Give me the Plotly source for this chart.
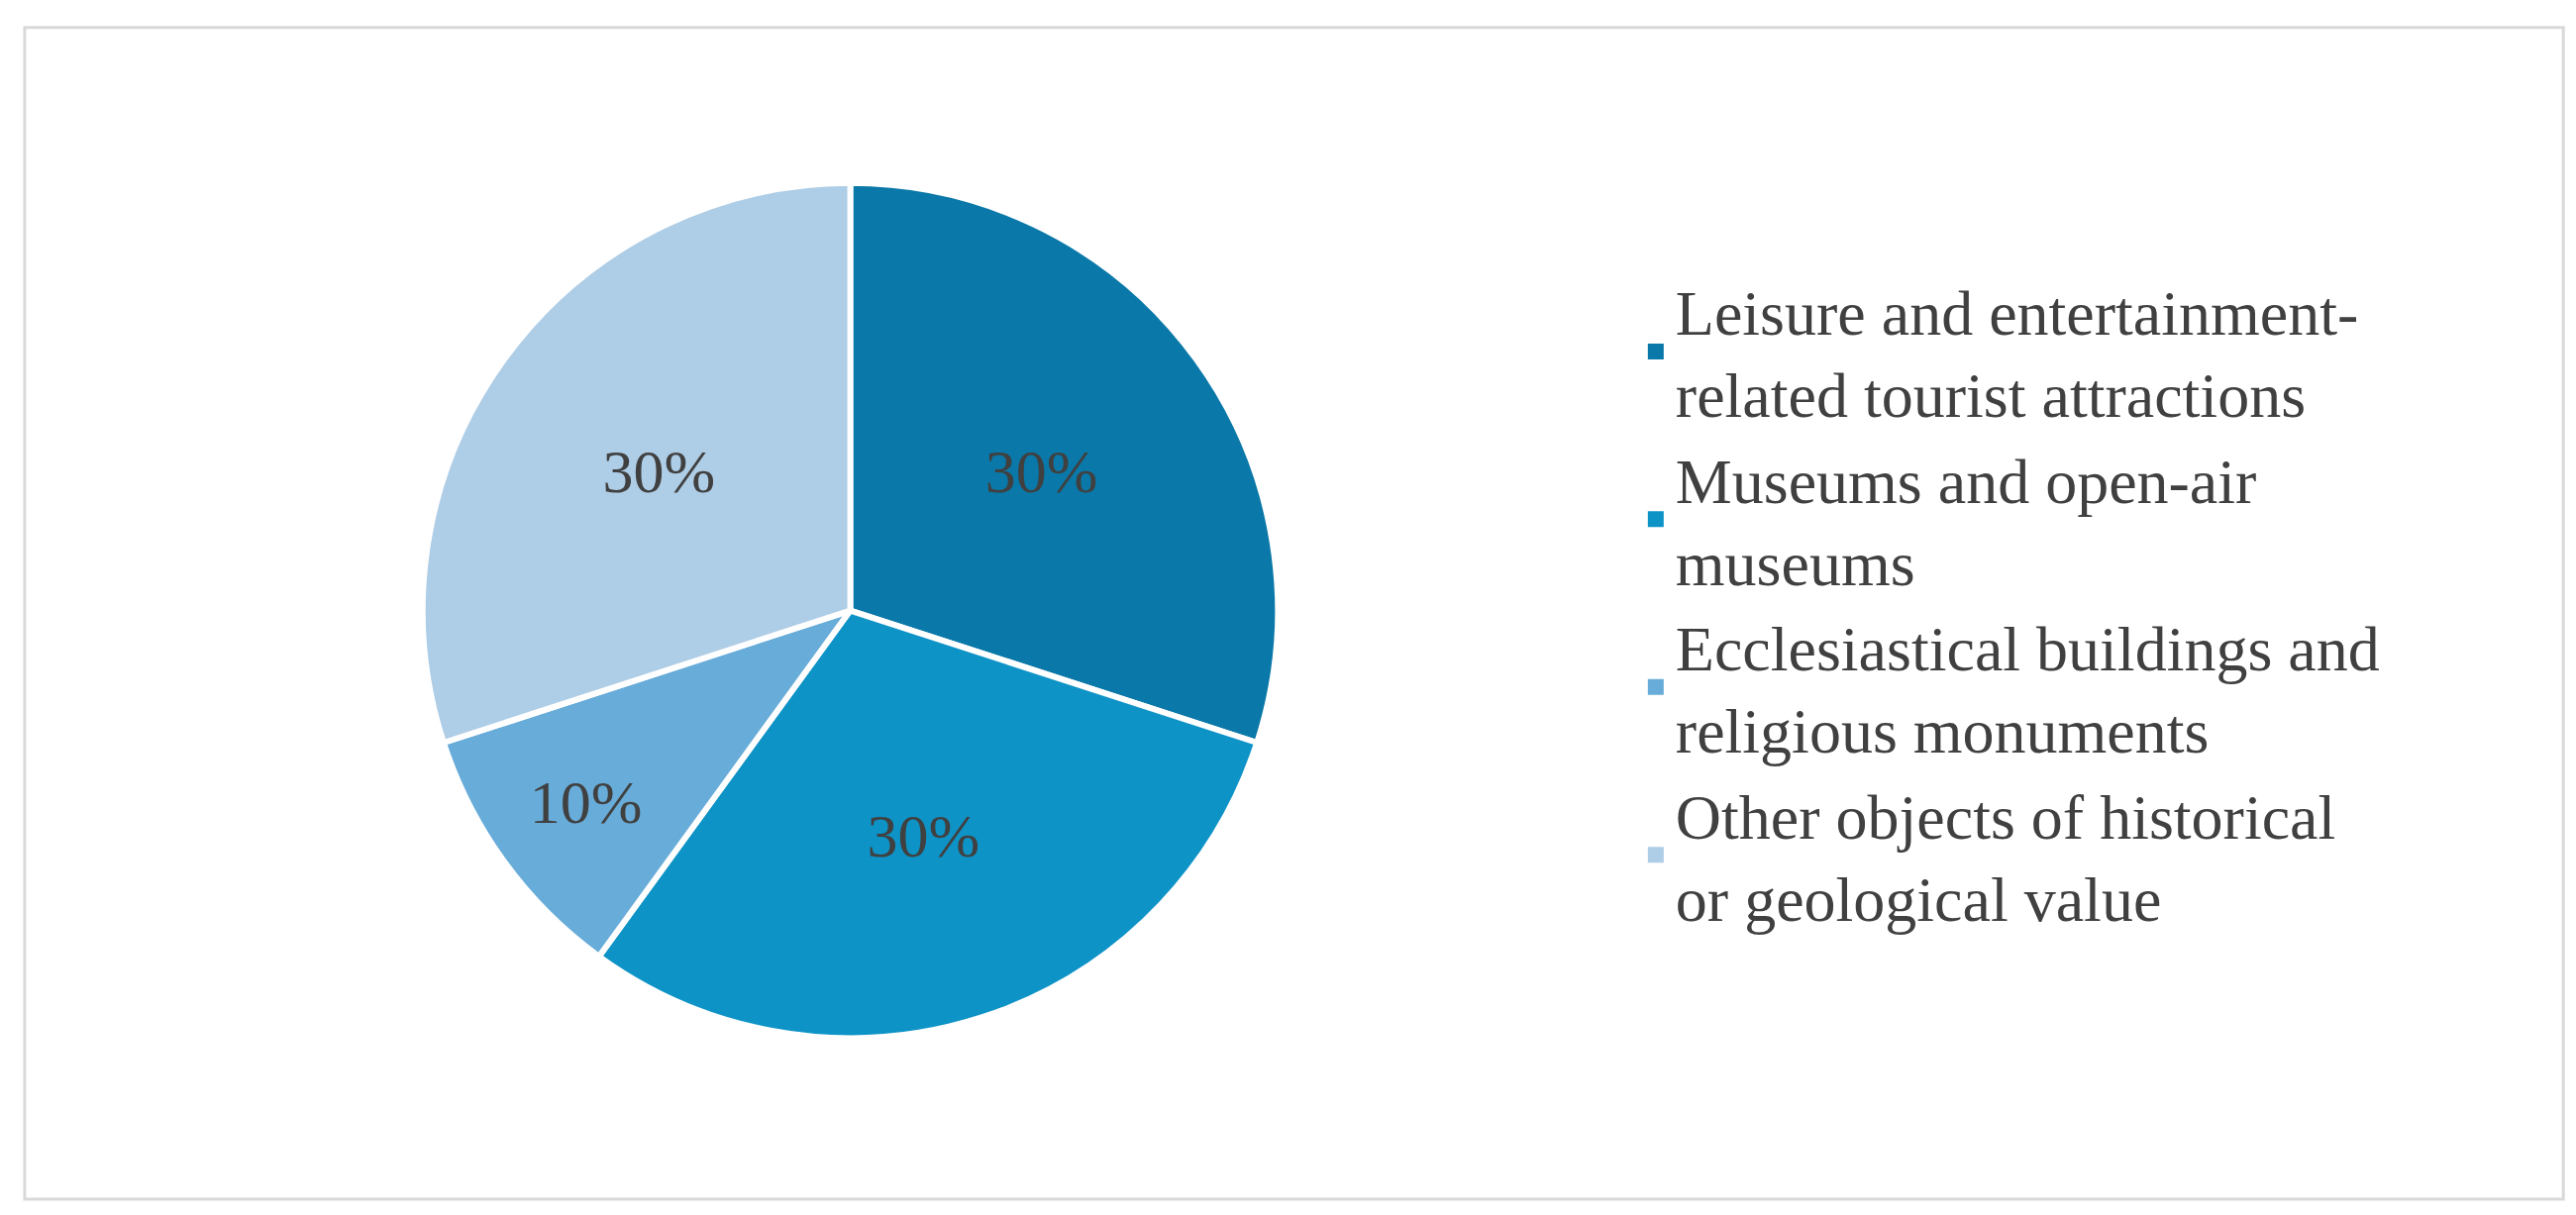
import plotly.graph_objects as go

labels = ["Leisure and entertainment-<br>related tourist attractions",
          "Museums and open-air<br>museums",
          "Ecclesiastical buildings and<br>religious monuments",
          "Other objects of historical<br>or geological value"]
values = [30, 30, 10, 30]
colors = ["#0a78a8", "#0e93c7", "#68acd9", "#aecde6"]

fig = go.Figure(go.Pie(
    labels=labels, values=values, sort=False, direction="clockwise", rotation=0,
    marker=dict(colors=colors, line=dict(color="white", width=6)),
    textinfo="percent", textposition="inside", insidetextorientation="horizontal",
    textfont=dict(family="Liberation Serif", size=62, color="#404040"),
    domain=dict(x=[0.161, 0.493], y=[0.152, 0.856]),
    showlegend=False,
))
for lab, col in zip(labels, colors):
    fig.add_trace(go.Scatter(x=[None], y=[None], mode="markers", name=lab,
                             marker=dict(symbol="square", size=20, color=col)))
fig.update_layout(
    width=2601, height=1227, margin=dict(l=0, r=0, t=0, b=0),
    paper_bgcolor="white", plot_bgcolor="white",
    xaxis=dict(visible=False), yaxis=dict(visible=False),
    legend=dict(x=0.632, y=0.51, xanchor="left", yanchor="middle",
                font=dict(family="Liberation Serif", size=64, color="#404040"),
                tracegroupgap=4, itemwidth=30),
    shapes=[dict(type="rect", xref="paper", yref="paper", x0=0.0065, x1=0.992,
                 y0=0.0196, y1=0.984, line=dict(color="#d9d9d9", width=3))],
)
fig.write_html("out.html")
